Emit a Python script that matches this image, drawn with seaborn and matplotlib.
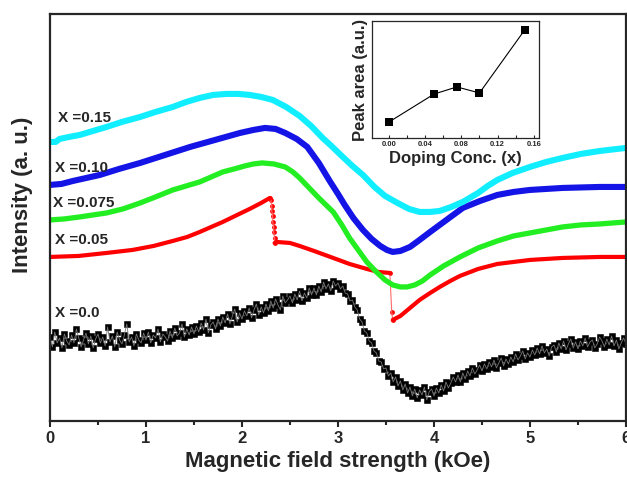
import numpy as np
import matplotlib
matplotlib.use("Agg")
import matplotlib.pyplot as plt
import seaborn as sns
from matplotlib.ticker import MultipleLocator

# ---- data (field in kOe, intensity in arbitrary units) ----
cyan_x = [0, 0.06, 0.1, 0.2, 0.31, 0.45, 0.59, 0.75, 0.94, 1.1, 1.28, 1.42, 1.56, 1.7,
          1.84, 1.96, 2.08, 2.2, 2.32, 2.46, 2.6, 2.72, 2.84, 2.92, 3.05, 3.15, 3.26,
          3.38, 3.49, 3.62, 3.74, 3.85, 3.96, 4.06, 4.18, 4.3, 4.46, 4.56, 4.66, 4.82,
          5.0, 5.17, 5.34, 5.53, 5.73, 6.0]
cyan_y = [279, 279, 282, 284, 286, 290, 294, 299, 304, 309, 314, 319, 323, 326,
          327, 327, 326, 324, 321, 314, 305, 295, 283, 276, 264, 255, 246,
          234, 225, 218, 212, 209, 209, 210, 214, 219, 228, 235, 241, 248,
          254, 259, 263, 267, 270, 273]

blue_x = [0, 0.12, 0.24, 0.38, 0.52, 0.72, 0.94, 1.2, 1.46, 1.72, 1.98, 2.12, 2.24,
          2.35, 2.45, 2.57, 2.68, 2.8, 2.92, 3.0, 3.07, 3.16, 3.26, 3.35, 3.44, 3.51,
          3.57, 3.65, 3.75, 3.85, 3.96, 4.13, 4.3, 4.48, 4.66, 4.83, 5.0, 5.34, 5.73, 6.0]
blue_y = [236, 237, 240, 243, 246, 252, 258, 266, 274, 281, 288, 291, 293,
          292, 288, 282, 274, 258, 239, 227, 216, 203, 191, 182, 175, 171,
          169, 170, 174, 181, 189, 201, 213, 220, 226, 229, 231, 233, 234, 234]

green_x = [0, 0.15, 0.31, 0.45, 0.59, 0.76, 0.94, 1.1, 1.28, 1.42, 1.56, 1.68, 1.8,
           1.92, 2.03, 2.12, 2.21, 2.33, 2.45, 2.53, 2.6, 2.7, 2.8, 2.95, 3.04, 3.12,
           3.21, 3.3, 3.4, 3.49, 3.57, 3.65, 3.72, 3.8, 3.88, 3.96, 4.1, 4.27, 4.46,
           4.66, 4.83, 5.0, 5.17, 5.34, 5.53, 5.73, 6.0]
green_y = [201, 202, 204, 206, 208, 212, 218, 224, 231, 235, 239, 244, 249,
           252, 255, 257, 258, 257, 254, 249, 243, 233, 223, 209, 196, 183,
           171, 159, 149, 141, 136, 134, 134, 136, 140, 146, 155, 164, 173,
           180, 185, 188, 191, 194, 196, 197, 199]

# x = 0.05 has two jumps; kept as five pieces
red_rise_x = [0, 0.3, 0.59, 0.86, 1.08, 1.28, 1.43, 1.56, 1.68, 1.8, 1.95, 2.08, 2.2, 2.29]
red_rise_y = [164, 165, 168, 171, 175, 180, 184, 189, 194, 199, 206, 212, 218, 223]
red_jump1_x = [2.29, 2.3, 2.31, 2.31, 2.32, 2.32, 2.33, 2.33, 2.34, 2.34]
red_jump1_y = [223, 221, 215, 210, 205, 199, 194, 189, 183, 178]
red_mid_x = [2.34, 2.36, 2.5, 2.6, 2.75, 2.95, 3.12, 3.3, 3.42, 3.54]
red_mid_y = [178, 179, 178, 175, 170, 163, 157, 152, 149, 148]
red_jump2_x = [3.54, 3.56, 3.57]
red_jump2_y = [148, 109, 101]
red_tail_x = [3.57, 3.65, 3.75, 3.85, 3.96, 4.06, 4.17, 4.27, 4.46, 4.66, 4.83, 5.0,
              5.34, 5.73, 6.0]
red_tail_y = [101, 105, 113, 121, 128, 134, 140, 145, 152, 157, 159, 161,
              163, 164, 164]

# undoped sample, noisy spectrum (step 0.025 kOe)
black_x = np.arange(0, 6.0001, 0.025)
black_y = [84, 74, 89, 78, 83, 73, 87, 80, 76, 86,
           78, 92, 83, 74, 81, 88, 77, 85, 73, 82,
           87, 78, 84, 75, 94, 79, 85, 74, 89, 81,
           77, 86, 97, 79, 84, 75, 87, 81, 78, 88,
           81, 89, 78, 86, 83, 92, 79, 87, 84, 80,
           90, 83, 93, 85, 88, 97, 84, 92, 86, 94,
           87, 95, 89, 98, 91, 102, 88, 96, 99, 92,
           102, 95, 104, 98, 107, 97, 105, 112, 99, 108,
           102, 110, 105, 113, 103, 111, 117, 106, 114, 108,
           117, 110, 120, 113, 122, 116, 111, 125, 118, 121,
           125, 118, 127, 121, 130, 120, 128, 123, 133, 126,
           133, 126, 135, 129, 139, 132, 137, 130, 140, 135,
           138, 132, 135, 128, 127, 120, 121, 114, 111, 102,
           99, 90, 88, 80, 78, 70, 68, 60, 59, 52,
           53, 45, 48, 39, 44, 35, 40, 31, 37, 28,
           34, 25, 32, 23, 31, 26, 34, 21, 29, 32,
           25, 33, 28, 36, 30, 39, 33, 38, 44, 39,
           46, 39, 48, 42, 50, 45, 53, 47, 51, 56,
           50, 57, 52, 59, 54, 61, 53, 58, 63, 55,
           62, 57, 64, 59, 67, 61, 65, 70, 62, 68,
           64, 71, 66, 73, 67, 75, 68, 72, 65, 74,
           76, 69, 78, 72, 80, 71, 77, 82, 73, 79,
           72, 80, 75, 83, 74, 79, 81, 73, 77, 84,
           80, 74, 82, 76, 85, 75, 81, 72, 78, 83,
           77]

labels = ["X =0.15", "X =0.10", "X =0.075", "X =0.05", "X =0.0"]
label_pos = [(0.08, 303), (0.05, 253), (0.03, 218), (0.05, 181), (0.05, 108)]

# inset: peak area vs doping
dop_x = [0.0, 0.05, 0.075, 0.10, 0.15]
area_y = [16, 44, 51, 45, 108]

sns.set_style("ticks")
plt.rcParams["font.family"] = ["Liberation Sans", "DejaVu Sans"]
plt.rcParams["font.weight"] = "bold"

fig = plt.figure(figsize=(6.27, 4.8), dpi=100)
ax = fig.add_axes([0.0797, 0.123, 0.9187, 0.848])

# black noisy trace: thin grey line + filled square markers
sns.lineplot(x=black_x, y=black_y, ax=ax, color="#777777", lw=0.6, sort=False, estimator=None)
sns.scatterplot(x=black_x, y=black_y, ax=ax, color="black", marker="s", s=14,
                edgecolor="black", linewidth=0.4)

# red: thin line over the jumps, thick smooth pieces, dots across the jumps
red_all_x = red_rise_x + red_jump1_x + red_mid_x + red_jump2_x + red_tail_x
red_all_y = red_rise_y + red_jump1_y + red_mid_y + red_jump2_y + red_tail_y
sns.lineplot(x=red_all_x, y=red_all_y, ax=ax, color="#ff6a6a", lw=0.8, sort=False, estimator=None)
for px, py in [(red_rise_x, red_rise_y), (red_mid_x, red_mid_y), (red_tail_x, red_tail_y)]:
    sns.lineplot(x=px, y=py, ax=ax, color="#ff0000", lw=3.0, sort=False, estimator=None)
sns.scatterplot(x=red_jump1_x + red_jump2_x, y=red_jump1_y + red_jump2_y, ax=ax,
                color="#ff0000", s=12, linewidth=0)

sns.lineplot(x=green_x, y=green_y, ax=ax, color="#22ee22", lw=3.8, sort=False, estimator=None)
sns.lineplot(x=blue_x, y=blue_y, ax=ax, color="#1414e6", lw=4.4, sort=False, estimator=None)
sns.lineplot(x=cyan_x, y=cyan_y, ax=ax, color="#11eeff", lw=4.4, sort=False, estimator=None)

for t, (tx, ty) in zip(labels, label_pos):
    ax.text(tx, ty, t, fontsize=11, fontweight="bold", va="center", ha="left")

ax.set_xlim(0, 6)
ax.set_ylim(0, 407)
ax.xaxis.set_major_locator(MultipleLocator(1))
ax.xaxis.set_minor_locator(MultipleLocator(0.5))
ax.tick_params(axis="x", which="major", direction="out", length=4, width=1.5,
               labelsize=12, pad=3)
ax.tick_params(axis="x", which="minor", direction="out", length=3, width=1.5)
ax.set_yticks([])
for s in ax.spines.values():
    s.set_linewidth(1.6)
    s.set_visible(True)
for lbl in ax.get_xticklabels():
    lbl.set_fontweight("bold")
ax.set_xlabel("Magnetic field strength (kOe)", fontsize=16, fontweight="bold", labelpad=4)
ax.set_ylabel("Intensity (a. u.)", fontsize=16, fontweight="bold")
ax.yaxis.set_label_coords(-0.03, 0.555)

# inset
ins = fig.add_axes([0.593, 0.7125, 0.267, 0.244])
sns.lineplot(x=dop_x, y=area_y, ax=ins, color="black", lw=0.8, marker="s",
             markersize=6, markeredgewidth=0, sort=False, estimator=None)
ins.set_xlim(-0.019, 0.166)
ins.set_ylim(0, 117)
ins.xaxis.set_major_locator(MultipleLocator(0.04))
ins.xaxis.set_minor_locator(MultipleLocator(0.02))
ins.tick_params(axis="x", which="both", direction="in", length=2, width=0.8,
                labelsize=5.5, pad=2)
ins.set_xticklabels([f"{v:.2f}" for v in ins.get_xticks()], fontweight="bold")
ins.set_xlim(-0.019, 0.166)
ins.set_yticks([])
for s in ins.spines.values():
    s.set_linewidth(0.9)
ins.set_xlabel("Doping Conc. (x)", fontsize=12, fontweight="bold", labelpad=2)
ins.set_ylabel("Peak area (a.u.)", fontsize=12, fontweight="bold", labelpad=3)

fig.savefig("out.png", dpi=100)
